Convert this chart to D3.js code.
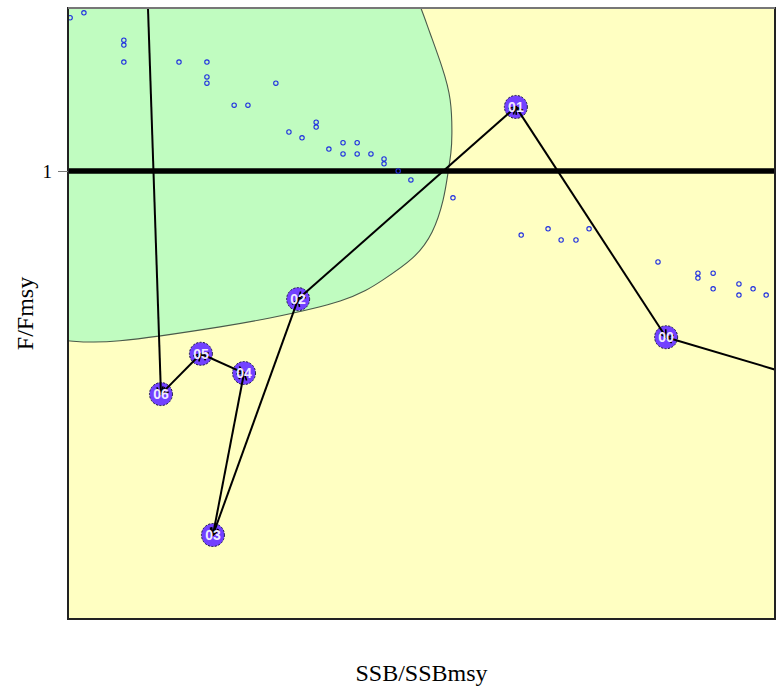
<!DOCTYPE html>
<html>
<head>
<meta charset="utf-8">
<script src="https://cdn.jsdelivr.net/npm/d3@7"></script>
<style>
  html, body { margin: 0; padding: 0; background: #ffffff; }
  svg { display: block; }
</style>
</head>
<body>
<svg id="chart" width="776" height="688"></svg>
<script>
// Stock trajectory (SSB/SSBmsy vs F/Fmsy); first and last points lie outside the frame
const trackLabels = ["", "00", "01", "02", "03", "04", "05", "06", ""];
const trackSsb = [2.297, 1.692, 1.267, 0.651, 0.410, 0.498, 0.376, 0.263, 0.216];
const trackF   = [0.487, 0.629, 1.143, 0.714, 0.1875, 0.549, 0.592, 0.502, 1.605];

// Historical estimates shown as small open circles
const histSsb = [0.006, 0.045, 0.158, 0.158, 0.158, 0.314, 0.393, 0.393, 0.393, 0.588,
                 0.470, 0.509, 0.625, 0.662, 0.702, 0.702, 0.738, 0.778, 0.778, 0.818,
                 0.818, 0.857, 0.894, 0.894, 0.934, 0.970, 1.089, 1.282, 1.358, 1.395,
                 1.437, 1.474, 1.669, 1.782, 1.782, 1.825, 1.825, 1.898, 1.898, 1.938, 1.975];
const histF   = [1.342, 1.353, 1.292, 1.281, 1.243, 1.243, 1.243, 1.210, 1.196, 1.196,
                 1.147, 1.147, 1.087, 1.074, 1.109, 1.098, 1.049, 1.063, 1.038, 1.063,
                 1.038, 1.038, 1.027, 1.016, 1.000, 0.980, 0.940, 0.857, 0.871, 0.846,
                 0.846, 0.871, 0.797, 0.772, 0.761, 0.772, 0.737, 0.748, 0.723, 0.737, 0.723];

// Outline of the green zone (upper-left region), traced clockwise from above the frame
const zoneSsb = [0.976, 0.999, 1.024, 1.058, 1.081, 1.086, 1.083, 1.075, 1.061, 1.030,
                 0.975, 0.891, 0.770, 0.571, 0.430, 0.147, 0.000, -0.108];
const zoneF   = [1.404, 1.362, 1.308, 1.232, 1.159, 1.085, 1.040, 0.996, 0.935, 0.864,
                 0.806, 0.757, 0.710, 0.672, 0.652, 0.621, 0.621, 0.623];

// Axis settings
const xDomain = [0, 2];
const yDomain = [0, 1.3638];
const yTicks = [1];
const refF = 1;

const svg = d3.select("#chart");
const mLeft = 68, mRight = 775, mTop = 8, mBottom = 619;

const x = d3.scaleLinear().domain(xDomain).range([mLeft, mRight]);
const y = d3.scaleLinear().domain(yDomain).range([mBottom, mTop]);

svg.append("defs").append("clipPath").attr("id", "plotClip")
  .append("rect").attr("x", mLeft).attr("y", mTop)
  .attr("width", mRight - mLeft).attr("height", mBottom - mTop);

const plot = svg.append("g").attr("clip-path", "url(#plotClip)");

// Background
plot.append("rect")
  .attr("x", mLeft).attr("y", mTop)
  .attr("width", mRight - mLeft).attr("height", mBottom - mTop)
  .attr("fill", "#ffffc2");

// Green zone: boundary curve closed through the upper-left corner outside the frame
const zonePts = zoneSsb.map((s, i) => [x(s), y(zoneF[i])]);
const zoneLine = d3.line().curve(d3.curveNatural);
const cornerPath = "L" + x(-0.108) + "," + y(1.404) + "Z";
plot.append("path")
  .attr("d", zoneLine(zonePts) + cornerPath)
  .attr("fill", "#c0fcc0")
  .attr("stroke", "none");
plot.append("path")
  .attr("d", zoneLine(zonePts))
  .attr("fill", "none")
  .attr("stroke", "#4a5a4a")
  .attr("stroke-width", 1.1);

// Reference line F/Fmsy = 1
plot.append("line")
  .attr("x1", mLeft).attr("x2", mRight)
  .attr("y1", y(refF)).attr("y2", y(refF))
  .attr("stroke", "#000").attr("stroke-width", 5.5);

// Historical points
plot.append("g").selectAll("circle")
  .data(histSsb.map((s, i) => ({ s, f: histF[i] })))
  .join("circle")
  .attr("cx", d => x(d.s)).attr("cy", d => y(d.f))
  .attr("r", 2.2)
  .attr("fill", "none")
  .attr("stroke", "#1f2fe0")
  .attr("stroke-width", 1.1);

const track = trackSsb.map((s, i) => ({ s, f: trackF[i], label: trackLabels[i] }));
const labelled = track.filter(d => d.label);
const segs = d3.pairs(track);

// Year marker discs
plot.append("g").selectAll("circle")
  .data(labelled)
  .join("circle")
  .attr("cx", d => x(d.s)).attr("cy", d => y(d.f))
  .attr("r", 11.5)
  .attr("fill", "#7241ff")
  .attr("stroke", "#1a1a40")
  .attr("stroke-width", 1)
  .attr("stroke-dasharray", "2,1.5");

// Trajectory segments
plot.append("g").selectAll("line")
  .data(segs)
  .join("line")
  .attr("x1", d => x(d[0].s)).attr("y1", d => y(d[0].f))
  .attr("x2", d => x(d[1].s)).attr("y2", d => y(d[1].f))
  .attr("stroke", "#000").attr("stroke-width", 2);

// Open arrowheads at each labelled end of a segment
function arrowHead(tip, from) {
  const tx = x(tip.s), ty = y(tip.f);
  const fx = x(from.s), fy = y(from.f);
  const a = Math.atan2(ty - fy, tx - fx);
  const len = 8, spread = Math.PI / 6;
  const p1 = [tx - len * Math.cos(a - spread), ty - len * Math.sin(a - spread)];
  const p2 = [tx - len * Math.cos(a + spread), ty - len * Math.sin(a + spread)];
  return `M${p1[0]},${p1[1]}L${tx},${ty}L${p2[0]},${p2[1]}`;
}
const heads = [];
segs.forEach(([a, b]) => {
  if (b.label) heads.push(arrowHead(b, a));
  if (a.label) heads.push(arrowHead(a, b));
});
plot.append("g").selectAll("path")
  .data(heads)
  .join("path")
  .attr("d", d => d)
  .attr("fill", "none")
  .attr("stroke", "#000")
  .attr("stroke-width", 1.6);

// Year labels
plot.append("g").selectAll("text")
  .data(labelled)
  .join("text")
  .attr("x", d => x(d.s)).attr("y", d => y(d.f))
  .attr("text-anchor", "middle")
  .attr("dy", "0.37em")
  .attr("font-family", "'Liberation Sans Narrow', 'Arial Narrow', 'Liberation Sans', sans-serif")
  .attr("font-size", 14)
  .attr("font-weight", "bold")
  .attr("fill", "#f0eaff")
  .text(d => d.label);

// Frame
svg.append("rect")
  .attr("x", mLeft).attr("y", mTop)
  .attr("width", mRight - mLeft).attr("height", mBottom - mTop)
  .attr("fill", "none")
  .attr("stroke", "#222")
  .attr("stroke-width", 2);
svg.append("line")
  .attr("x1", mLeft).attr("x2", mRight)
  .attr("y1", mTop).attr("y2", mTop)
  .attr("stroke", "#777").attr("stroke-width", 2);

// Y axis with the single reference tick
const yAxis = svg.append("g")
  .attr("transform", `translate(${mLeft},0)`)
  .call(d3.axisLeft(y).tickValues(yTicks).tickFormat(d3.format("d")).tickSize(10).tickPadding(6));
yAxis.select(".domain").remove();
yAxis.selectAll(".tick line").attr("stroke", "#777");
yAxis.selectAll(".tick text")
  .attr("font-family", "'Liberation Serif', 'Times New Roman', serif")
  .attr("font-size", 19)
  .attr("fill", "#000");

// Axis titles
svg.append("text")
  .attr("x", (mLeft + mRight) / 2).attr("y", 681)
  .attr("text-anchor", "middle")
  .attr("font-family", "'Liberation Serif', 'Times New Roman', serif")
  .attr("font-size", 24)
  .attr("fill", "#000")
  .text("SSB/SSBmsy");

svg.append("text")
  .attr("transform", `translate(33,${(mTop + mBottom) / 2}) rotate(-90)`)
  .attr("text-anchor", "middle")
  .attr("font-family", "'Liberation Serif', 'Times New Roman', serif")
  .attr("font-size", 24)
  .attr("fill", "#000")
  .text("F/Fmsy");
</script>
</body>
</html>
